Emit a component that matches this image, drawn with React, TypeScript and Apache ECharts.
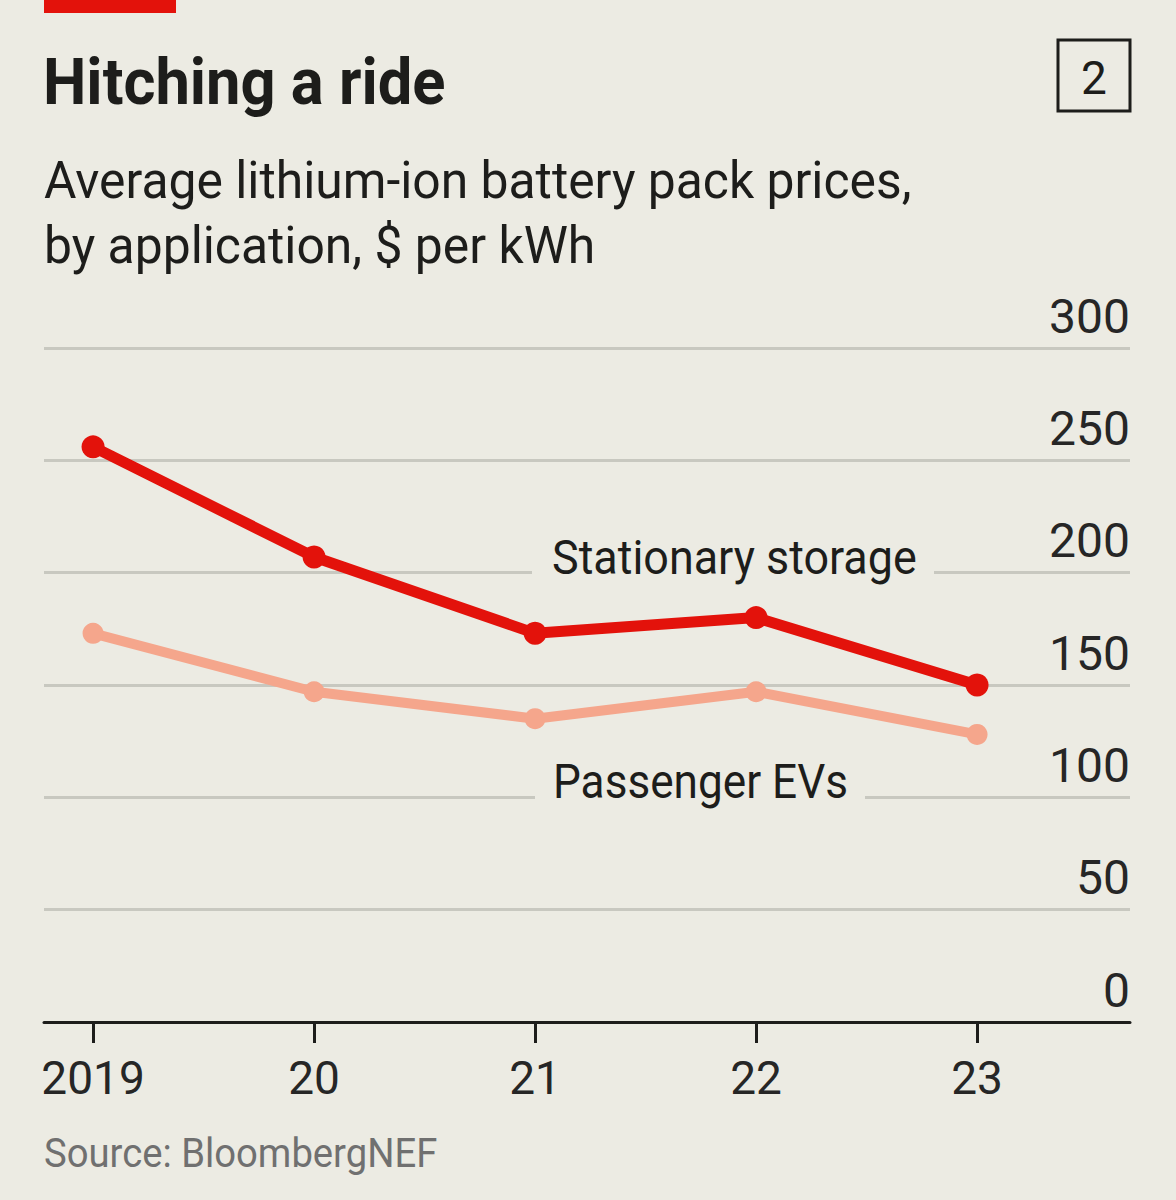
import React, { useEffect, useRef } from "react";
import * as echarts from "echarts";

const years = [2019, 2020, 2021, 2022, 2023];
const yearLabels = ["2019", "20", "21", "22", "23"];
const stationaryStorage = [256, 207, 173, 180, 150];
const passengerEVs = [173, 147, 135, 147, 128];
const yTicks = [0, 50, 100, 150, 200, 250, 300];

const BG = "#ecebe3";
const INK = "#1d1d1b";
const FONT = "Roboto, 'Liberation Sans', sans-serif";

// text helper: Roboto is a touch wider than the original face, so squeeze it a little
const label = (text: string, x: number, y: number, font: string, fill: string, scaleX = 1, z = 1) => ({
  type: "text",
  x,
  y,
  z,
  scaleX,
  style: { text, font, fill, verticalAlign: "middle" },
});

const App: React.FC = () => {
  const chartRef = useRef<HTMLDivElement>(null);

  useEffect(() => {
    if (!chartRef.current) return;
    document.body.style.margin = "0";
    const chart = echarts.init(chartRef.current, undefined, { renderer: "svg" });

    const option: echarts.EChartsOption = {
      animation: false,
      backgroundColor: BG,
      grid: { left: 44, right: 46, top: 348, bottom: 178 },
      xAxis: {
        type: "value",
        // 2019 sits ~49px in from the grid's left edge, years 221px apart
        min: 2018.778,
        max: 2023.692,
        splitLine: { show: false },
        axisLine: { show: true, lineStyle: { color: INK, width: 3 } },
        axisTick: {
          show: true,
          customValues: years,
          length: 21,
          lineStyle: { color: INK, width: 3 },
        },
        axisLabel: {
          customValues: years,
          margin: 33,
          color: "#262626",
          fontFamily: FONT,
          fontSize: 46,
          formatter: (v: number) => yearLabels[years.indexOf(Math.round(v))] ?? "",
        },
      },
      yAxis: {
        type: "value",
        position: "right",
        min: yTicks[0],
        max: yTicks[yTicks.length - 1],
        interval: 50,
        axisLine: { show: false },
        axisTick: { show: false },
        splitLine: { lineStyle: { color: "#c8c8c0", width: 3 } },
        axisLabel: {
          inside: true,
          margin: 0,
          verticalAlign: "bottom",
          padding: [0, 0, 8, 0],
          color: "#262626",
          fontFamily: FONT,
          fontSize: 48,
        },
      },
      series: [
        {
          name: "Stationary storage",
          type: "line",
          data: years.map((y, i) => [y, stationaryStorage[i]]),
          symbol: "circle",
          symbolSize: 23,
          lineStyle: { color: "#e3120b", width: 11 },
          itemStyle: { color: "#e3120b" },
          z: 4,
        },
        {
          name: "Passenger EVs",
          type: "line",
          data: years.map((y, i) => [y, passengerEVs[i]]),
          symbol: "circle",
          symbolSize: 21,
          lineStyle: { color: "#f5a68c", width: 10 },
          itemStyle: { color: "#f5a68c" },
          z: 3,
        },
      ],
      graphic: [
        { type: "rect", left: 44, top: 0, shape: { width: 132, height: 13 }, style: { fill: "#e3120b" } },
        label("Hitching a ride", 43, 82, `700 64px ${FONT}`, INK, 0.96),
        label("Average lithium-ion battery pack prices,", 44, 180, `400 52px ${FONT}`, INK, 0.958),
        label("by application, $ per kWh", 44, 245, `400 52px ${FONT}`, INK, 0.958),
        {
          type: "rect",
          shape: { x: 1058, y: 40, width: 72, height: 71 },
          style: { fill: "none", stroke: INK, lineWidth: 3 },
        },
        {
          type: "text",
          x: 1094,
          y: 78,
          style: { text: "2", font: `400 46px ${FONT}`, fill: INK, align: "center", verticalAlign: "middle" },
        },
        // line labels, masking the gridline they sit on
        { type: "rect", z: 10, shape: { x: 532, y: 566, width: 402, height: 14 }, style: { fill: BG } },
        label("Stationary storage", 552, 557, `400 48px ${FONT}`, INK, 0.935, 11),
        { type: "rect", z: 10, shape: { x: 535, y: 790, width: 330, height: 14 }, style: { fill: BG } },
        label("Passenger EVs", 553, 781, `400 48px ${FONT}`, INK, 0.92, 11),
        label("Source: BloombergNEF", 44, 1154, `400 40px ${FONT}`, "#707070", 0.956),
      ],
    };

    chart.setOption(option);
    return () => chart.dispose();
  }, []);

  return <div ref={chartRef} style={{ width: 1176, height: 1200, backgroundColor: BG }} />;
};

export default App;
